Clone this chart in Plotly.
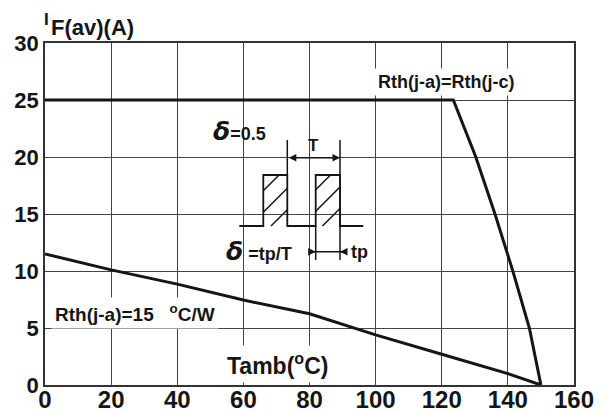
import plotly.graph_objects as go

# ---- data ----
x_upper = [0, 123.5, 130.3, 136.1, 141.5, 146.5, 150]
y_upper = [25, 25, 20, 15, 10, 5, 0]
x_lower = [0, 20, 40, 60, 80, 100, 120, 140, 150]
y_lower = [11.5, 10.1, 8.85, 7.45, 6.25, 4.4, 2.7, 1.0, 0]
x_ticks = [0, 20, 40, 60, 80, 100, 120, 140, 160]
y_ticks = [0, 5, 10, 15, 20, 25, 30]

OFF = 8  # default page body margin
W, H = 606 - OFF, 412 - OFF
L, R, T, B = 45 - OFF, 32, 43 - OFF, 27
PW, PH = W - L - R, H - T - B

# convert page pixel positions (as measured on the reference) to paper coords
def X(px):
    return (px - OFF - L) / PW

def Y(py):
    return (OFF + H - B - py) / PH

FONT = "Arial, Liberation Sans, sans-serif"
INK = "#151515"

fig = go.Figure()
fig.add_trace(go.Scatter(x=x_upper, y=y_upper, mode="lines",
                         line=dict(color=INK, width=3), cliponaxis=False, showlegend=False))
fig.add_trace(go.Scatter(x=x_lower, y=y_lower, mode="lines",
                         line=dict(color=INK, width=3), cliponaxis=False, showlegend=False))

shapes = []
shapes.append(dict(type="rect", xref="paper", yref="paper", x0=X(208), x1=X(370), y0=Y(273), y1=Y(112),
                   fillcolor="white", line=dict(width=0), layer="between"))

def path(pts):
    s = "M%.5f,%.5f" % (X(pts[0][0]), Y(pts[0][1]))
    for p in pts[1:]:
        s += " L%.5f,%.5f" % (X(p[0]), Y(p[1]))
    return s

lw = 1.8
wave = [(239.3, 226), (263.3, 226), (263.3, 175), (287.3, 175), (287.3, 226), (315.7, 226),
        (315.7, 175), (340, 175), (340, 226), (363.3, 226)]
shapes.append(dict(type="path", xref="paper", yref="paper", path=path(wave), line=dict(color=INK, width=lw)))
for seg in [[(287.3, 140), (287.3, 175)], [(340, 140), (340, 260)], [(315.7, 226), (315.7, 260)],
            [(310, 251.7), (346, 251.7)]]:
    shapes.append(dict(type="path", xref="paper", yref="paper", path=path(seg), line=dict(color=INK, width=1.5)))

def hatch(x0, x1, y0, y1, cs):
    for c in cs:
        pts = []
        for px in (x0, x1):
            py = c - px
            if y0 - 1e-6 <= py <= y1 + 1e-6:
                pts.append((px, py))
        for py in (y0, y1):
            px = c - py
            if x0 - 1e-6 <= px <= x1 + 1e-6:
                pts.append((px, py))
        pts = sorted(set(pts))
        if len(pts) >= 2:
            shapes.append(dict(type="path", xref="paper", yref="paper", path=path([pts[0], pts[-1]]),
                               line=dict(color=INK, width=1.5)))

hatch(263.3, 287.3, 175, 226, [454, 475.5, 497])
hatch(315.7, 340, 175, 226, [505.5, 527, 548.5])

annotations = []

def text(px, py, t, size, xanchor="center", bg=None, family=FONT):
    d = dict(xref="paper", yref="paper", x=X(px), y=Y(py), text=t, showarrow=False,
             xanchor=xanchor, yanchor="middle", font=dict(family=family, size=size, color=INK, weight="bold"))
    if bg:
        d.update(bgcolor=bg, borderpad=3)
    annotations.append(d)

DELTA = "<span style='font-family:DejaVu Sans;font-size:25px;font-style:italic'>δ</span>"
text(446, 81.7, "Rth(j-a)=Rth(j-c)", 18, bg="white")
text(51, 313.3, "Rth(j-a)=15&nbsp;&nbsp;&nbsp;<sup>o</sup>C/W", 19, xanchor="left", bg="white")
text(277, 364, "Tamb(<sup>o</sup>C)", 23, bg="white")
text(211, 131.7, DELTA + "=0.5", 18, xanchor="left")
text(224, 251.7, DELTA + " =tp/T", 18, xanchor="left")
text(313.3, 145, "T", 17)
text(349, 252, "tp", 18, xanchor="left")
text(42, 19, "I", 17, xanchor="left")
text(49, 27, "F(av)(A)", 22, xanchor="left")

def arrow(hx, hy, tx, ty, side="end"):
    annotations.append(dict(xref="paper", yref="paper", x=X(hx), y=Y(hy), axref="pixel", ayref="pixel",
                            ax=tx - hx, ay=ty - hy, text="", showarrow=True, arrowhead=2, arrowsize=1,
                            arrowwidth=1.5, arrowcolor=INK, arrowside=side, standoff=0, startstandoff=0))

arrow(340, 157.7, 287.3, 157.7, side="end+start")
arrow(315.7, 251.7, 309, 251.7)
arrow(340, 251.7, 347, 251.7)

fig.update_layout(
    width=W, height=H, margin=dict(l=L, r=R, t=T, b=B, pad=0),
    paper_bgcolor="white", plot_bgcolor="white",
    shapes=shapes, annotations=annotations,
    xaxis=dict(range=[0, 160], tickvals=x_ticks, showgrid=True, gridcolor="#444", gridwidth=1,
               showline=True, linecolor="#333", linewidth=1.5, mirror=True, zeroline=False, ticks="",
               automargin=False, ticklabelstandoff=-8,
               tickfont=dict(family=FONT, size=24, color=INK, weight="bold")),
    yaxis=dict(range=[0, 30], tickvals=y_ticks, showgrid=True, gridcolor="#444", gridwidth=1,
               showline=True, linecolor="#333", linewidth=1.5, mirror=True, zeroline=False, ticks="",
               automargin=False,
               tickfont=dict(family=FONT, size=22, color=INK, weight="bold")),
)

fig.write_html("out.html")
